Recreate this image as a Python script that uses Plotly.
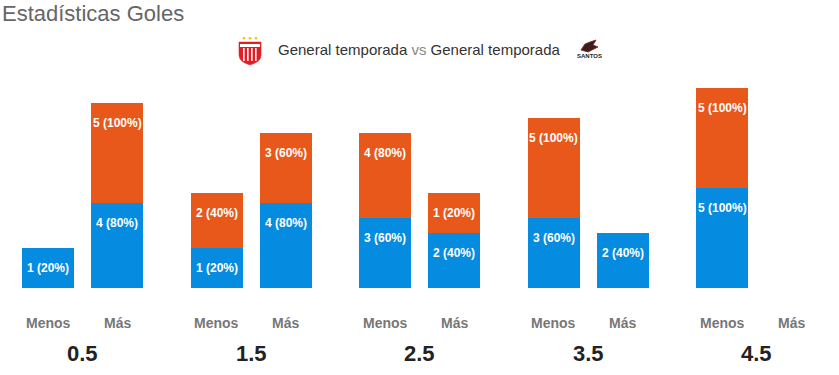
import plotly.graph_objects as go

# ---- data ----
groups = ["0.5", "1.5", "2.5", "3.5", "4.5"]
sides = ["Menos", "Más"]
total_matches = 5
menos_blue = [1, 1, 3, 3, 5]
menos_orange = [0, 2, 4, 5, 5]
mas_blue = [4, 4, 2, 2, 0]
mas_orange = [5, 3, 1, 0, 0]

BLUE = "#058be0"
ORANGE = "#e8581b"
PAD = 5 / 3  # minimum visual height for non-empty segments (chart style)
W, H = 839, 375
BASE = 288   # baseline pixel
GX0 = 82.5   # first group centre pixel
GSTEP = 168.5
UNIT = 15
OFF = 34.5 / GSTEP
BW = 52 / GSTEP
FONT = "Liberation Sans, Arial"


def disp(v):
    return [(c + PAD) if c > 0 else 0 for c in v]


def lab(c):
    return f"{c} ({round(c * 100 / total_matches)}%)"


x_menos = [i - OFF for i in range(len(groups))]
x_mas = [i + OFF for i in range(len(groups))]

fig = go.Figure()
for xs, blue, orange in [(x_menos, menos_blue, menos_orange), (x_mas, mas_blue, mas_orange)]:
    fig.add_trace(go.Bar(x=xs, y=disp(blue), width=BW, marker=dict(color=BLUE, line=dict(width=0)),
                         hoverinfo="skip", showlegend=False))
    fig.add_trace(go.Bar(x=xs, y=disp(orange), width=BW, marker=dict(color=ORANGE, line=dict(width=0)),
                         hoverinfo="skip", showlegend=False))

annotations = []
for xs, blue, orange in [(x_menos, menos_blue, menos_orange), (x_mas, mas_blue, mas_orange)]:
    db, do = disp(blue), disp(orange)
    for x, b, o, hb, ho in zip(xs, blue, orange, db, do):
        if b > 0:
            annotations.append(dict(x=x, y=hb, xref="x", yref="y", text=f"<b>{lab(b)}</b>", showarrow=False,
                                    yshift=-20, font=dict(color="white", size=12, family=FONT)))
        if o > 0:
            annotations.append(dict(x=x, y=hb + ho, xref="x", yref="y", text=f"<b>{lab(o)}</b>", showarrow=False,
                                    yshift=-20, font=dict(color="white", size=12, family=FONT)))

for i, g in enumerate(groups):
    annotations.append(dict(x=x_menos[i], y=-35 / UNIT, xref="x", yref="y", text=f"<b>{sides[0]}</b>",
                            showarrow=False, font=dict(color="#777777", size=14, family=FONT)))
    annotations.append(dict(x=x_mas[i], y=-35 / UNIT, xref="x", yref="y", text=f"<b>{sides[1]}</b>",
                            showarrow=False, font=dict(color="#777777", size=14, family=FONT)))
    annotations.append(dict(x=i, y=-65 / UNIT, xref="x", yref="y", text=f"<b>{g}</b>", showarrow=False,
                            font=dict(color="#222222", size=22, family=FONT)))


def pxx(x):
    return x / W


def pxy(y):
    return 1 - y / H


# title and legend text
annotations.append(dict(x=pxx(0), y=pxy(14), xref="paper", yref="paper", xanchor="left", yanchor="middle",
                        text="Estadísticas Goles", showarrow=False,
                        font=dict(color="#666666", size=22, family=FONT)))
annotations.append(dict(x=pxx(419), y=pxy(50), xref="paper", yref="paper", xanchor="center", yanchor="middle",
                        text="General temporada <span style='color:#888888'>vs</span> General temporada",
                        showarrow=False, font=dict(color="#333333", size=15, family=FONT)))
annotations.append(dict(x=pxx(589), y=pxy(56), xref="paper", yref="paper", xanchor="center", yanchor="middle",
                        text="<b>SANTOS</b>", showarrow=False,
                        font=dict(color="#222222", size=6, family=FONT)))


def px(x, y):
    return f"{pxx(x):.5f},{pxy(y):.5f}"


shapes = []
# left logo: red shield with white stripes and stars
shield = (f"M {px(239, 42)} L {px(261, 42)} L {px(261, 55)} Q {px(261, 62)} {px(250, 65)} "
          f"Q {px(239, 62)} {px(239, 55)} Z")
shapes.append(dict(type="path", xref="paper", yref="paper", path=shield, fillcolor="#e31d25",
                   line=dict(color="#e31d25", width=0.5)))
for sx in [243, 247, 251, 255]:
    shapes.append(dict(type="rect", xref="paper", yref="paper", x0=pxx(sx), x1=pxx(sx + 1.6),
                       y0=pxy(61), y1=pxy(48), fillcolor="white", line=dict(width=0)))
shapes.append(dict(type="rect", xref="paper", yref="paper", x0=pxx(240), x1=pxx(260),
                   y0=pxy(47), y1=pxy(44), fillcolor="white", line=dict(width=0)))
for sx in [244, 250, 256]:
    shapes.append(dict(type="circle", xref="paper", yref="paper", x0=pxx(sx - 1.3), x1=pxx(sx + 1.3),
                       y0=pxy(39.5), y1=pxy(37), fillcolor="#f2c200", line=dict(width=0)))
# right logo: dark warrior figure
fig_path = (f"M {px(581, 50)} L {px(585, 44)} L {px(590, 42)} L {px(596, 40)} L {px(593, 45)} "
            f"L {px(598, 47)} L {px(592, 50)} L {px(588, 52)} Z")
shapes.append(dict(type="path", xref="paper", yref="paper", path=fig_path, fillcolor="#3a1d1d",
                   line=dict(color="#8a1a1a", width=0.8)))

fig.update_layout(
    width=W, height=H,
    margin=dict(l=0, r=0, t=0, b=0),
    barmode="stack",
    bargap=0,
    plot_bgcolor="white", paper_bgcolor="white",
    xaxis=dict(range=[-GX0 / GSTEP, (W - GX0) / GSTEP], visible=False, fixedrange=True),
    yaxis=dict(range=[-(H - BASE) / UNIT, BASE / UNIT], visible=False, fixedrange=True),
    annotations=annotations,
    shapes=shapes,
    showlegend=False,
)

fig.write_html("out.html", config={"displayModeBar": False},
               post_script="document.body.style.margin='0';document.body.style.overflow='hidden';")
